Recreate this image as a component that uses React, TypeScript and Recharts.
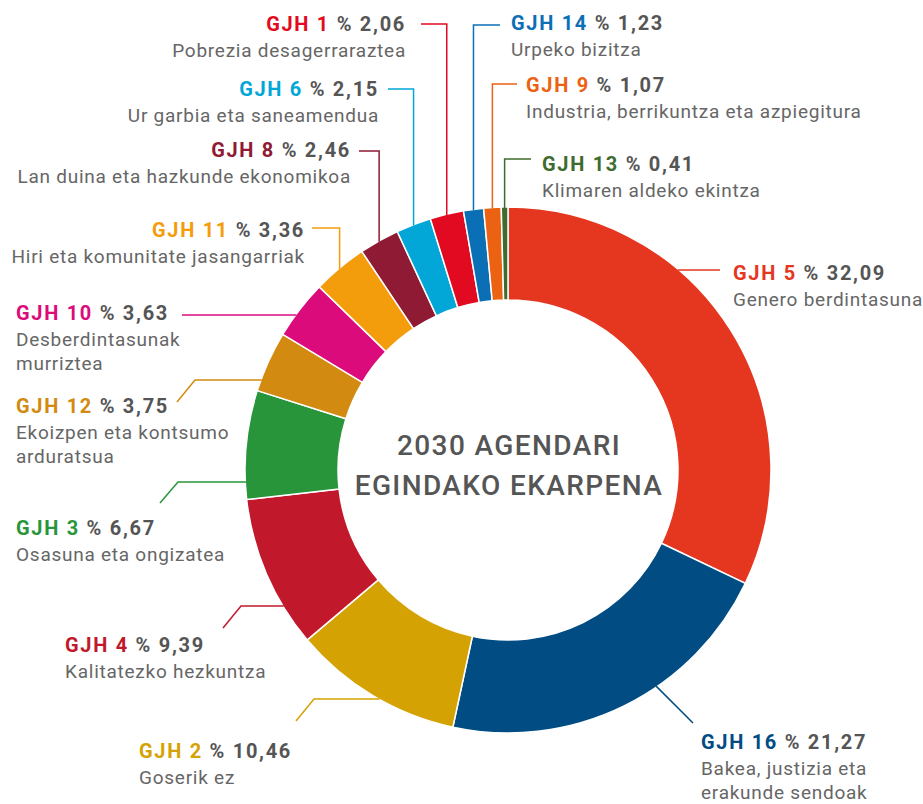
import { PieChart, Pie, Cell } from 'recharts'

// slices in drawing order, clockwise from 12 o'clock
const codes = ['GJH 5', 'GJH 16', 'GJH 2', 'GJH 4', 'GJH 3', 'GJH 12', 'GJH 10', 'GJH 11', 'GJH 8', 'GJH 6', 'GJH 1', 'GJH 14', 'GJH 9', 'GJH 13']
const shares = [32.09, 21.27, 10.46, 9.39, 6.67, 3.75, 3.63, 3.36, 2.46, 2.15, 2.06, 1.23, 1.07, 0.41]
const names = [
  ['Genero berdintasuna'],
  ['Bakea, justizia eta', 'erakunde sendoak'],
  ['Goserik ez'],
  ['Kalitatezko hezkuntza'],
  ['Osasuna eta ongizatea'],
  ['Ekoizpen eta kontsumo', 'arduratsua'],
  ['Desberdintasunak', 'murriztea'],
  ['Hiri eta komunitate jasangarriak'],
  ['Lan duina eta hazkunde ekonomikoa'],
  ['Ur garbia eta saneamendua'],
  ['Pobrezia desagerraraztea'],
  ['Urpeko bizitza'],
  ['Industria, berrikuntza eta azpiegitura'],
  ['Klimaren aldeko ekintza'],
]
const colors = ['#e5361f', '#004c83', '#d5a204', '#c1192b', '#29953b', '#d28b10', '#dc0b7b', '#f49d0c', '#8f1a33', '#02a7d7', '#e10a21', '#0b6fb5', '#ec6213', '#3e6c2e']

const data = codes.map((code, i) => ({ code, value: shares[i], lines: names[i] }))

const GREY = '#555555'
const LIGHT = '#666666'
const FONT = 'Roboto, sans-serif'

// label placement: text anchor point, leader start points, and the direction
// the leader keeps going until it meets the ring. midX = knee sits above the slice centre
type Spot = { x: number; y: number; anchor: 'start' | 'end'; pts: number[][]; dir: number[]; midX?: boolean }
const SPOTS: Spot[] = [
  { x: 733, y: 280, anchor: 'start', pts: [[720, 270]], dir: [-1, 0] },
  { x: 701, y: 749, anchor: 'start', pts: [[693, 723]], dir: [-1, -1] },
  { x: 139, y: 758, anchor: 'start', pts: [[296, 721], [314, 699]], dir: [1, 0] },
  { x: 65, y: 652, anchor: 'start', pts: [[223, 628], [241, 606]], dir: [1, 0] },
  { x: 16, y: 535, anchor: 'start', pts: [[160, 503], [178, 482]], dir: [1, 0] },
  { x: 16, y: 413, anchor: 'start', pts: [[177, 402], [195, 380]], dir: [1, 0] },
  { x: 16, y: 320, anchor: 'start', pts: [[182, 315]], dir: [1, 0] },
  { x: 305, y: 237, anchor: 'end', pts: [[312, 228]], dir: [0, 1], midX: true },
  { x: 351, y: 157, anchor: 'end', pts: [[359, 151]], dir: [0, 1], midX: true },
  { x: 379, y: 96, anchor: 'end', pts: [[388, 89]], dir: [0, 1], midX: true },
  { x: 406, y: 31, anchor: 'end', pts: [[421, 24]], dir: [0, 1], midX: true },
  { x: 511, y: 30, anchor: 'start', pts: [[500, 25]], dir: [0, 1], midX: true },
  { x: 526, y: 92, anchor: 'start', pts: [[517, 84]], dir: [0, 1], midX: true },
  { x: 542, y: 171, anchor: 'start', pts: [[531, 159]], dir: [0, 1], midX: true },
]

const RAD = Math.PI / 180

// eslint-disable-next-line @typescript-eslint/no-explicit-any
function SliceLabel(props: any) {
  const { index, midAngle, outerRadius } = props
  const cx = Number(props.cx)
  const cy = Number(props.cy)
  const s = SPOTS[index]
  const color = colors[index]
  const pts = s.pts.map((p) => [p[0], p[1]])
  if (s.midX) {
    const last = pts[pts.length - 1]
    pts.push([cx + outerRadius * Math.cos(-midAngle * RAD), last[1]])
  }
  // walk from the knee along dir until the outer edge of the ring
  const [px, py] = pts[pts.length - 1]
  const len = Math.hypot(s.dir[0], s.dir[1])
  const ux = s.dir[0] / len
  const uy = s.dir[1] / len
  const dx = px - cx
  const dy = py - cy
  const b = dx * ux + dy * uy
  const c = dx * dx + dy * dy - outerRadius * outerRadius
  const t = -b - Math.sqrt(Math.max(0, b * b - c))
  pts.push([px + ux * (t + 1), py + uy * (t + 1)])

  const d = data[index]
  return (
    <g>
      <polyline
        points={pts.map((p) => p.join(',')).join(' ')}
        fill="none"
        stroke={color}
        strokeWidth={1.5}
      />
      <text x={s.x} y={s.y} textAnchor={s.anchor} fontFamily={FONT} fontSize={20} fontWeight={700} letterSpacing={1.7}>
        <tspan fill={color}>{d.code}</tspan>
        <tspan fill={GREY}>{` % ${d.value.toFixed(2).replace('.', ',')}`}</tspan>
      </text>
      {d.lines.map((line, k) => (
        <text
          key={k}
          x={s.x}
          y={s.y + 26 + k * 24}
          textAnchor={s.anchor}
          fontFamily={FONT}
          fontSize={19}
          fill={LIGHT}
          letterSpacing={0.75}
        >
          {line}
        </text>
      ))}
    </g>
  )
}

export default function App() {
  return (
    <div style={{ position: 'absolute', left: 0, top: 0, width: 923, height: 804, background: '#fff' }}>
      <PieChart width={923} height={804} margin={{ top: 0, right: 0, bottom: 0, left: 0 }}>
        <Pie
          data={data}
          dataKey="value"
          nameKey="code"
          cx={508}
          cy={470}
          innerRadius={170}
          outerRadius={263}
          startAngle={90}
          endAngle={-270}
          stroke="#ffffff"
          strokeWidth={1.5}
          label={SliceLabel}
          labelLine={false}
          isAnimationActive={false}
        >
          {data.map((_, idx) => (
            <Cell key={idx} fill={colors[idx]} />
          ))}
        </Pie>
        <text x={509} y={455} textAnchor="middle" fontFamily={FONT} fontSize={28} fontWeight={500} fill={GREY} letterSpacing={1.4}>
          2030 AGENDARI
        </text>
        <text x={509} y={495} textAnchor="middle" fontFamily={FONT} fontSize={28} fontWeight={500} fill={GREY} letterSpacing={1.4}>
          EGINDAKO EKARPENA
        </text>
      </PieChart>
    </div>
  )
}
